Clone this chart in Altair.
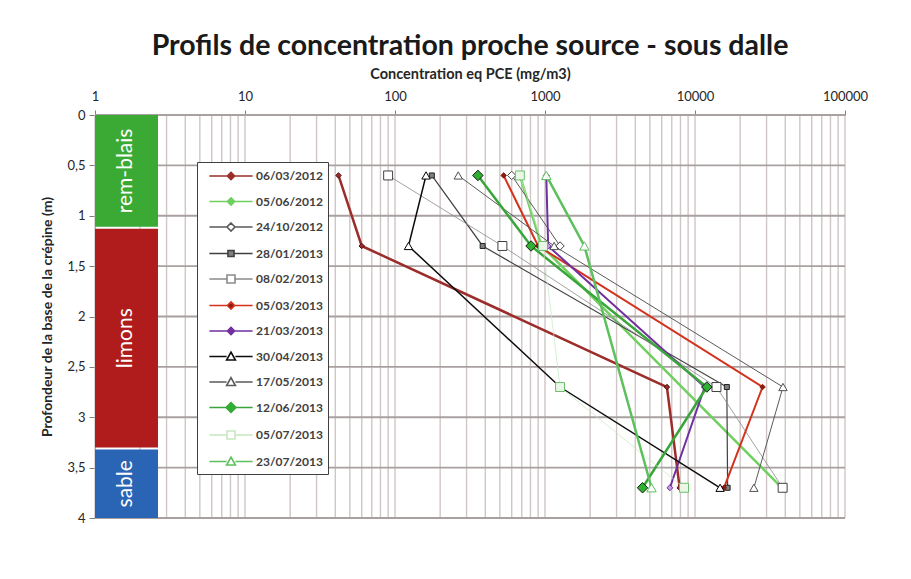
import altair as alt
import pandas as pd

# ---------------- data ----------------
depths = [0.6, 1.3, 2.7, 3.7]

series_names = ["06/03/2012", "05/06/2012", "24/10/2012", "28/01/2013",
                "08/02/2013", "05/03/2013", "21/03/2013", "30/04/2013",
                "17/05/2013", "12/06/2013", "05/07/2013", "23/07/2013"]

conc_06_03_2012 = [42, 60, 6500, 7900]
conc_05_06_2012 = [680, 950, None, 38000]
conc_24_10_2012 = [600, 1260, None, None]
conc_28_01_2013 = [176, 384, 16300, 16500]
conc_08_02_2013 = [90, 520, 13900, 38400]
conc_05_03_2013 = [530, 900, 28200, 15600]
conc_21_03_2013 = [1020, 1050, 11600, 6800]
conc_30_04_2013 = [161, 123, 1260, 14700]
conc_17_05_2013 = [264, 1150, 38600, 24700]
conc_12_06_2013 = [357, 807, 12000, 4470]
conc_05_07_2013 = [680, 970, 1260, 8450]
conc_23_07_2013 = [1020, 1830, None, 5130]

series_values = [conc_06_03_2012, conc_05_06_2012, conc_24_10_2012, conc_28_01_2013,
                 conc_08_02_2013, conc_05_03_2013, conc_21_03_2013, conc_30_04_2013,
                 conc_17_05_2013, conc_12_06_2013, conc_05_07_2013, conc_23_07_2013]

soil_names = ["rem-blais", "limons", "sable"]
soil_top = [0.0, 1.13, 3.32]
soil_bottom = [1.11, 3.30, 4.0]
soil_left = [1, 1, 1]
soil_right = [2.63, 2.63, 2.63]

decades = [1, 10, 100, 1000, 10000, 100000]
multipliers = [1, 2, 3, 4, 5, 6, 7, 8, 9]
depth_ticks = [0, 0.5, 1, 1.5, 2, 2.5, 3, 3.5, 4]

# ---------------- styles ----------------
line_colors = ["#9b2d2a", "#6fcf5f", "#595959", "#404040", "#8a8a8a", "#d2321e",
               "#7030a0", "#0d0d0d", "#5a5a5a", "#3aa53a", "#c6e8c0", "#5cc05c"]
line_widths = [2.5, 2.5, 1, 1.2, 0.8, 2, 2, 1.5, 1, 2.5, 0.7, 2.5]
marker_shapes = ["diamond", "diamond", "diamond", "square", "square", "diamond",
                 "diamond", "triangle-up", "triangle-up", "diamond", "square", "triangle-up"]
marker_sizes = [30, 30, 70, 25, 80, 30, 35, 70, 70, 110, 80, 90]
marker_fills = ["#9b2d2a", "#6fcf5f", "white", "#808080", "white", "#8b1a10",
                "#c0a0dc", "white", "white", "#30b030", "#eaf6e6", "white"]
marker_strokes = ["#4a1010", "#6fcf5f", "#404040", "#202020", "#404040", "#8b1a10",
                  "#7030a0", "#000000", "#505050", "#1a1a1a", "#6cbf6c", "#5cc05c"]
soil_colors = ["#3aaa35", "#b01c1c", "#2a64b4"]

# legend symbols: unit = 8 px (symbol size 256)
L = 2.7


def diamond_path(d):
    return f"M-{L},0H-{d}M{d},0H{L}M0,-{d}L{d},0L0,{d}L-{d},0Z"


def square_path(d):
    return f"M-{L},0H-{d}M{d},0H{L}M-{d},-{d}H{d}V{d}H-{d}Z"


def triangle_path(d):
    return f"M-{L},0H-{d}M{d},0H{L}M0,-{d}L{d},{d * 0.8:.3f}L-{d},{d * 0.8:.3f}Z"


legend_paths = [diamond_path(0.45), diamond_path(0.45), diamond_path(0.5),
                square_path(0.38), square_path(0.5), diamond_path(0.45),
                diamond_path(0.45), triangle_path(0.55), triangle_path(0.55),
                diamond_path(0.62), square_path(0.5), triangle_path(0.55)]
legend_fills = ["#9b2d2a", "#6fcf5f", "white", "#808080", "white", "#8b1a10",
                "#7030a0", "white", "white", "#30b030", "white", "white"]

# ---------------- tables ----------------
rows = []
for i, name in enumerate(series_names):
    for d, v in zip(depths, series_values[i]):
        if v is None:
            continue
        rows.append({"series": name, "sidx": i, "depth": d, "conc": v,
                     "lcolor": line_colors[i], "lw": line_widths[i],
                     "mshape": marker_shapes[i], "msize": marker_sizes[i],
                     "mfill": marker_fills[i], "mstroke": marker_strokes[i]})
df = pd.DataFrame(rows)

soil_df = pd.DataFrame({"name": soil_names, "top": soil_top, "bottom": soil_bottom,
                        "left": soil_left, "right": soil_right, "color": soil_colors})
soil_df["mid"] = (soil_df["top"] + soil_df["bottom"]) / 2
soil_df["xmid"] = (soil_df["left"] * soil_df["right"]) ** 0.5

vgrid_df = pd.DataFrame({"gx": [m * d for d in decades[:-1] for m in multipliers] + [decades[-1]]})
hgrid_df = pd.DataFrame({"gy": depth_ticks})
legend_df = pd.DataFrame({"series": series_names, "conc": [None] * len(series_names),
                          "depth": [None] * len(series_names)})

# ---------------- scales ----------------
FONT = "Lato"
xscale = alt.Scale(type="log", domain=[1, 100000], nice=False)
yscale = alt.Scale(domain=[0, 4], reverse=True, nice=False, zero=False)

x_axis = alt.Axis(orient="top", values=decades, format="d", labelFlush=False,
                  labelFontSize=13, labelColor="#262626", labelFont=FONT,
                  tickSize=5, tickColor="#808080", domainColor="#808080",
                  labelPadding=7, grid=False,
                  title="Concentration eq PCE (mg/m3)", titleFont=FONT,
                  titleFontSize=14.5, titleFontWeight="bold", titleColor="#262626",
                  titlePadding=9)
y_axis = alt.Axis(values=depth_ticks, labelExpr="replace(toString(datum.value), '.', ',')",
                  labelFontSize=13, labelColor="#262626", labelFont=FONT,
                  tickSize=6, tickColor="#808080", domainColor="#808080",
                  labelPadding=4, grid=False, labelFlush=False,
                  title="Profondeur de la base de la crépine (m)", titleFont=FONT,
                  titleFontSize=14, titleFontWeight="bold", titleColor="#262626",
                  titlePadding=12)

vgrid = alt.Chart(vgrid_df).mark_rule(color="#cfc6c6", strokeWidth=1.4).encode(
    x=alt.X("gx:Q", scale=xscale, axis=x_axis)
)
hgrid = alt.Chart(hgrid_df).mark_rule(color="#a9a0a0", strokeWidth=1.8).encode(
    y=alt.Y("gy:Q", scale=yscale, axis=y_axis)
)

soil_rect = alt.Chart(soil_df).mark_rect().encode(
    x=alt.X("left:Q", scale=xscale), x2="right:Q",
    y=alt.Y("top:Q", scale=yscale), y2="bottom:Q",
    fill=alt.Fill("color:N", scale=None)
)
soil_text = alt.Chart(soil_df).mark_text(angle=270, color="white", fontSize=21,
                                         font=FONT, baseline="middle", align="center").encode(
    x=alt.X("xmid:Q", scale=xscale),
    y=alt.Y("mid:Q", scale=yscale),
    text="name:N"
)

lines = alt.Chart(df).mark_line().encode(
    x=alt.X("conc:Q", scale=xscale),
    y=alt.Y("depth:Q", scale=yscale),
    detail="sidx:N",
    order="depth:Q",
    stroke=alt.Stroke("lcolor:N", scale=None),
    strokeWidth=alt.StrokeWidth("lw:Q", scale=None)
)
points = alt.Chart(df).mark_point(opacity=1, strokeWidth=1).encode(
    x=alt.X("conc:Q", scale=xscale),
    y=alt.Y("depth:Q", scale=yscale),
    shape=alt.Shape("mshape:N", scale=None),
    size=alt.Size("msize:Q", scale=None),
    fill=alt.Fill("mfill:N", scale=None),
    stroke=alt.Stroke("mstroke:N", scale=None)
)

leg = alt.Legend(title=None, orient="none", legendX=102, legendY=47, padding=5,
                 strokeColor="#404040", fillColor="white", symbolSize=256,
                 symbolOffset=20, labelOffset=16,
                 labelFont=FONT, labelFontSize=12, labelFontWeight="bold",
                 labelColor="#404040", rowPadding=9.5,
                 symbolStrokeWidth=1.6)
legend_layer = alt.Chart(legend_df).mark_point(opacity=1, strokeWidth=1.6).encode(
    x=alt.X("conc:Q", scale=xscale),
    y=alt.Y("depth:Q", scale=yscale),
    stroke=alt.Stroke("series:N", scale=alt.Scale(domain=series_names, range=line_colors), legend=leg),
    fill=alt.Fill("series:N", scale=alt.Scale(domain=series_names, range=legend_fills), legend=leg),
    shape=alt.Shape("series:N", scale=alt.Scale(domain=series_names, range=legend_paths), legend=leg),
)

chart = alt.layer(vgrid, hgrid, soil_rect, soil_text, lines, points, legend_layer).properties(
    width=750, height=403,
    autosize=alt.AutoSizeParams(type="none"),
    padding={"left": 87, "top": 107, "right": 58, "bottom": 53},
    title=alt.TitleParams("Profils de concentration proche source - sous dalle",
                          font=FONT, fontSize=28.5, fontWeight="bold", color="#1a1a1a",
                          anchor="middle", offset=6),
    background="white"
).configure_view(stroke=None)

chart.save("out.html", embed_options={"renderer": "svg", "actions": False})
